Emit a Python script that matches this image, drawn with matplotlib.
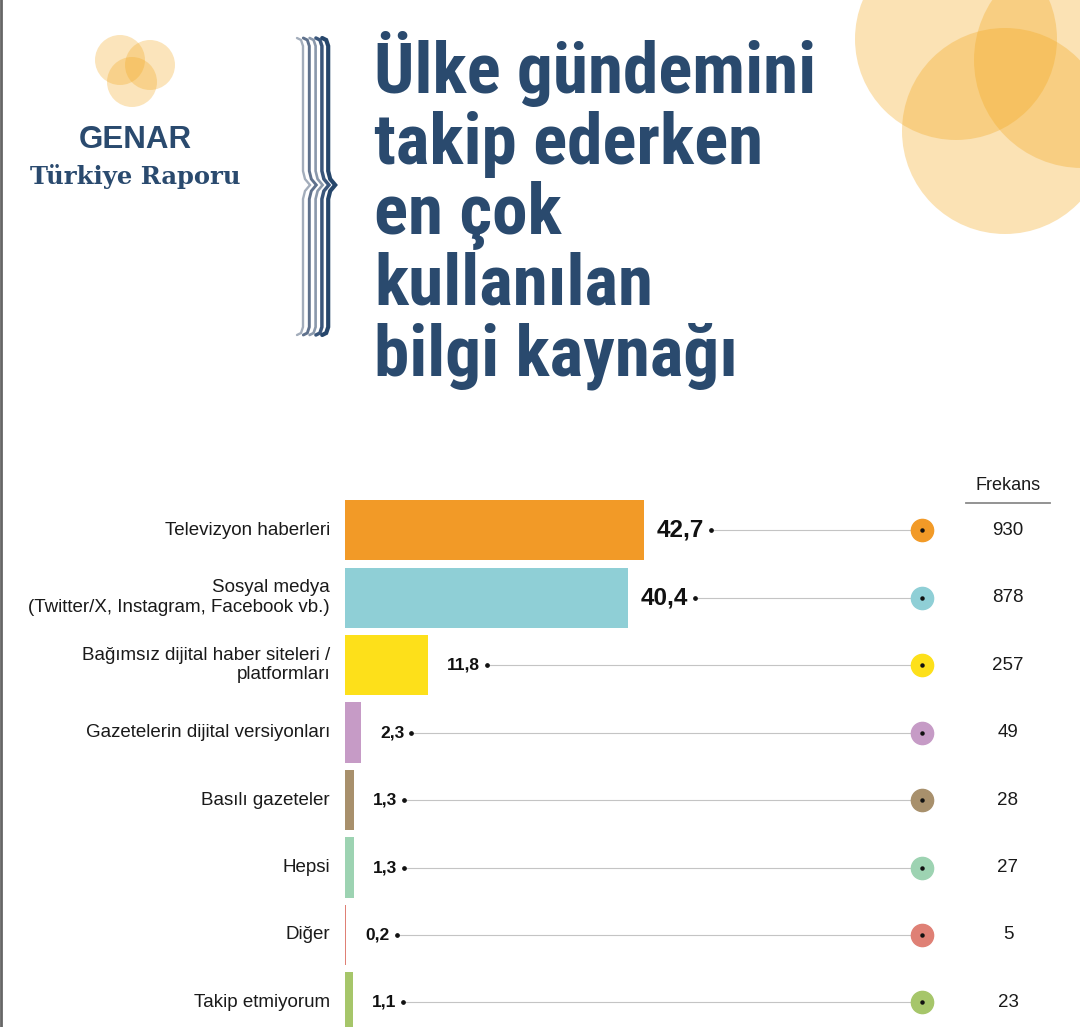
import matplotlib.pyplot as plt
import matplotlib.transforms as mtransforms
from matplotlib import font_manager
from matplotlib.patches import Circle, PathPatch
from matplotlib.path import Path

# data
categories = ["Televizyon haberleri",
              "Sosyal medya\n(Twitter/X, Instagram, Facebook vb.)",
              "Bağımsız dijital haber siteleri /\nplatformları",
              "Gazetelerin dijital versiyonları",
              "Basılı gazeteler",
              "Hepsi",
              "Diğer",
              "Takip etmiyorum"]
percent = [42.7, 40.4, 11.8, 2.3, 1.3, 1.3, 0.2, 1.1]
percent_labels = ["42,7", "40,4", "11,8", "2,3", "1,3", "1,3", "0,2", "1,1"]
frequency = [930, 878, 257, 49, 28, 27, 5, 23]
colors = ["#f29a27", "#8fcfd6", "#fde01a", "#c69bc6",
          "#a8906c", "#9dd3b2", "#df8075", "#a6c66a"]

title_lines = ["Ülke gündemini", "takip ederken", "en çok",
               "kullanılan", "bilgi kaynağı"]

navy = "#2a4a6e"
orange = "#f3a81e"
sans = "Liberation Sans"

# pick the narrowest bold sans we can find for the title
available = sorted({f.name for f in font_manager.fontManager.ttflist})
title_font = "DejaVu Sans"
for name in ["Liberation Sans Narrow", "Roboto Condensed", "Noto Sans Condensed",
             "Open Sans Condensed", "DejaVu Sans Condensed"]:
    if name in available:
        title_font = name
        break
else:
    narrow = [n for n in available
              if ("Condensed" in n or "Narrow" in n) and "Serif" not in n
              and "Mono" not in n and "CJK" not in n]
    if narrow:
        title_font = narrow[0]

fig = plt.figure(figsize=(10.8, 10.27), dpi=100)

# decoration layer in pixel coordinates
deco = fig.add_axes([0, 0, 1, 1])
deco.set_xlim(0, 1080)
deco.set_ylim(1027, 0)
deco.axis("off")

# big circles top right
for cx, cy, r in [(956, 39, 101), (1082, 60, 108), (1005, 131, 103)]:
    deco.add_patch(Circle((cx, cy), r, color=orange, alpha=0.33, lw=0))

# logo circles
for cx, cy, r in [(120, 60, 25), (150, 65, 25), (132, 82, 25)]:
    deco.add_patch(Circle((cx, cy), r, color=orange, alpha=0.3, lw=0))

deco.text(135, 148, "GENAR", ha="center", va="baseline", fontsize=22.5,
          fontweight="bold", family=sans, color=navy)
deco.text(135, 184, "Türkiye Raporu", ha="center", va="baseline",
          fontsize=17.5, fontweight="bold", family="DejaVu Serif", color=navy)

# stacked brace
brace_cols = ["#a3adbb", "#5f718c", "#8a98ab", "#3a567b", "#26466b"]
brace_lw = [1.7, 2.1, 1.9, 2.5, 3.0]
y0, y1, ym = 38, 335, 185
for k in range(5):
    x = 303 + 6.3 * k
    pts = [(x - 6, y0), (x - 2, y0 + 2), (x, y0 + 8), (x, ym - 14),
           (x + 2, ym - 6), (x + 7, ym), (x + 2, ym + 6), (x, ym + 14),
           (x, y1 - 8), (x - 2, y1 - 2), (x - 6, y1)]
    deco.add_patch(PathPatch(Path(pts), fill=False, edgecolor=brace_cols[k],
                             lw=brace_lw[k], capstyle="round"))

# title
title_texts = []
for j, line in enumerate(title_lines):
    t = deco.text(374, 93 + 70.5 * j, line, ha="left", va="baseline",
                  fontsize=52, fontweight="bold", family=title_font, color=navy)
    title_texts.append(t)

# left border
deco.plot([1, 1], [0, 1027], color="#666666", lw=2)

# Frekans header
deco.text(1008, 486, "Frekans", ha="center", va="center", fontsize=13,
          family=sans, color="#1a1a1a")
deco.plot([966, 1050], [503, 503], color="#8a8a8a", lw=1.3)

# bar chart
ax = fig.add_axes([345 / 1080, 0, 735 / 1080, 557 / 1027])
ax.patch.set_alpha(0)
ax.set_xlim(0, 105)
ax.set_ylim(7.363, -0.889)
ax.axis("off")

rows = list(range(len(categories)))
ax.barh(rows, percent, height=0.889, color=colors)

blend = mtransforms.blended_transform_factory(deco.transData, ax.transData)

value_texts = []
for i in rows:
    ax.text(330, i, categories[i], transform=blend, ha="right", va="center",
            fontsize=13.5, family=sans, multialignment="right", color="#1a1a1a")
    big = percent[i] > 30
    t = ax.annotate(percent_labels[i], xy=(percent[i], i),
                    xytext=(13 if big else 19, 0), textcoords="offset pixels",
                    ha="left", va="center", fontsize=17.5 if big else 12.5,
                    fontweight="bold", family=sans, color="#111111")
    value_texts.append(t)
    ax.text(1008, i, str(frequency[i]), transform=blend, ha="center",
            va="center", fontsize=13.5, family=sans, color="#1a1a1a")

fig.canvas.draw()
renderer = fig.canvas.get_renderer()

# fit the title so the first line is as wide as in the original
w = title_texts[0].get_window_extent(renderer).width
for t in title_texts:
    t.set_fontsize(52 * 442 / w)

for i, t in zip(rows, value_texts):
    x_end = t.get_window_extent(renderer).x1 + 7
    ax.plot([x_end, 922], [i, i], transform=blend, color="#c4c4c4", lw=0.8)
    ax.plot(x_end, i, "o", ms=2.4, color="#111111", transform=blend)
    ax.plot(922, i, "o", ms=16, color=colors[i], transform=blend)
    ax.plot(922, i, "o", ms=2.2, color="#111111", transform=blend)

fig.savefig("out.png", dpi=100)
